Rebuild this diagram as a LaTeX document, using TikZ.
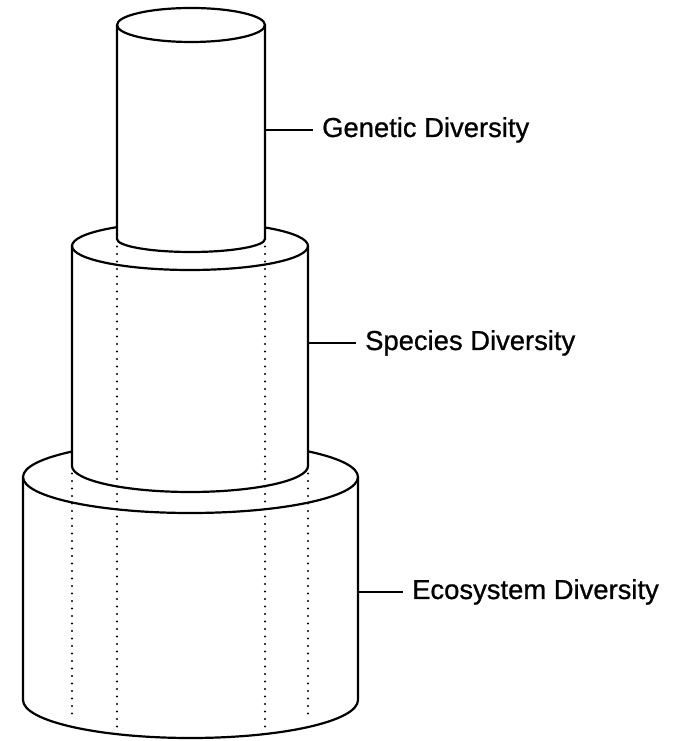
\documentclass[tikz,border=0pt]{standalone}
\usepackage{fontspec}
\setmainfont[FakeBold=0.8]{Liberation Sans}
\begin{document}
\begin{tikzpicture}[x=1pt,y=1pt,
  outline/.style={line width=2.2pt, line join=round, line cap=round},
  hidden/.style={line width=2.2pt, line cap=round, dash pattern=on 0pt off 7.5pt},
  leader/.style={line width=2.2pt},
  lbl/.style={anchor=base west, inner sep=0pt, font=\fontsize{27.4}{30}\selectfont}]
\useasboundingbox (0,0) rectangle (675,741);
% bottom cylinder (ecosystem)
\draw[outline, fill=white] (23,264) -- (23,41)
  arc[start angle=180,end angle=360,x radius=167.5,y radius=38] -- (358,264)
  arc[start angle=0,end angle=180,x radius=167.5,y radius=36] -- cycle;
\draw[outline] (23,264) arc[start angle=180,end angle=360,x radius=167.5,y radius=36];
% middle cylinder (species)
\draw[outline, fill=white] (72,495) -- (72,275)
  arc[start angle=180,end angle=360,x radius=118,y radius=26] -- (308,495)
  arc[start angle=0,end angle=180,x radius=118,y radius=24] -- cycle;
\draw[outline] (72,495) arc[start angle=180,end angle=360,x radius=118,y radius=24];
% top cylinder (genetic)
\draw[outline, fill=white] (117,716) -- (117,502)
  arc[start angle=180,end angle=360,x radius=74,y radius=13] -- (265,716)
  arc[start angle=0,end angle=180,x radius=74,y radius=17] -- cycle;
\draw[outline] (117,716) arc[start angle=180,end angle=360,x radius=74,y radius=17];
% hidden edges
\coordinate (ta) at (117,502); \coordinate (tab) at (117,14);
\coordinate (tb) at (265,502); \coordinate (tbb) at (265,14);
\coordinate (ma) at (72,275);  \coordinate (mab) at (72,22);
\coordinate (mb) at (308,275); \coordinate (mbb) at (308,22);
\draw[hidden] (ta) -- (tab);
\draw[hidden] (tb) -- (tbb);
\draw[hidden] (ma) -- (mab);
\draw[hidden] (mb) -- (mbb);
% labels
\coordinate (g0) at (265,611);
\coordinate (s0) at (308,398);
\coordinate (e0) at (358,149);
\node[lbl] (gen) at (322,604) {Genetic Diversity};
\node[lbl] (spe) at (365,391) {Species Diversity};
\node[lbl] (eco) at (412,142) {Ecosystem Diversity};
\draw[leader] (g0) -- ([xshift=-9pt]gen.base west |- g0);
\draw[leader] (s0) -- ([xshift=-9pt]spe.base west |- s0);
\draw[leader] (e0) -- ([xshift=-9pt]eco.base west |- e0);
\end{tikzpicture}
\end{document}
